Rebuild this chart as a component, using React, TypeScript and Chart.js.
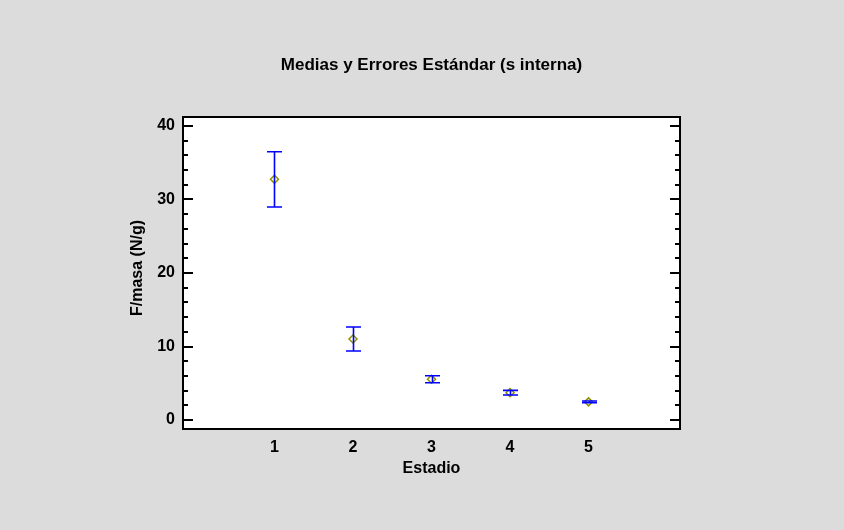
import React, { useEffect, useRef } from "react";
import { Chart, registerables } from "chart.js";

Chart.register(...registerables);

const chartTitle = "Medias y Errores Estándar (s interna)";
const xTitle = "Estadio";
const yTitle = "F/masa (N/g)";
const categories = [1, 2, 3, 4, 5];
const means = [32.74, 11.02, 5.55, 3.72, 2.47];
const stdErrs = [3.76, 1.63, 0.48, 0.32, 0.12];
const yMajorTicks = [0, 10, 20, 30, 40];
const yMinorStep = 2;
const xRange = [-0.165, 6.165];
const yRange = [-1.22, 41.22];

const FONT = "'Liberation Sans', Arial, sans-serif";

export default function App() {
  const ref = useRef<HTMLCanvasElement | null>(null);

  useEffect(() => {
    if (!ref.current) return;

    const framePlugin = {
      id: "frame",
      beforeDraw(chart: any) {
        const { ctx, chartArea: a } = chart;
        ctx.save();
        ctx.fillStyle = "#dcdcdc";
        ctx.fillRect(0, 0, chart.width, chart.height);
        ctx.fillStyle = "#ffffff";
        ctx.fillRect(a.left, a.top, a.right - a.left, a.bottom - a.top);
        ctx.restore();
      },
      afterDraw(chart: any) {
        const { ctx, chartArea: a } = chart;
        const y = chart.scales.y;
        ctx.save();
        ctx.strokeStyle = "#000000";
        ctx.lineWidth = 2;
        ctx.strokeRect(a.left, a.top, a.right - a.left, a.bottom - a.top);
        const drawTick = (v: number, len: number) => {
          const py = Math.round(y.getPixelForValue(v));
          ctx.beginPath();
          ctx.moveTo(a.left, py);
          ctx.lineTo(a.left + len, py);
          ctx.moveTo(a.right, py);
          ctx.lineTo(a.right - len, py);
          ctx.stroke();
        };
        const lo = yMajorTicks[0];
        const hi = yMajorTicks[yMajorTicks.length - 1];
        for (let v = lo; v <= hi + 1e-9; v += yMinorStep) {
          const isMajor = yMajorTicks.some((m) => Math.abs(m - v) < 1e-9);
          drawTick(v, isMajor ? 10 : 5);
        }
        // chart title, centred over the plot area
        ctx.fillStyle = "#000000";
        ctx.textAlign = "center";
        ctx.textBaseline = "middle";
        ctx.font = "bold 17px " + FONT;
        ctx.fillText(chartTitle, (a.left + a.right) / 2, 65);
        // y axis title
        ctx.translate(138, (a.top + a.bottom) / 2 - 5);
        ctx.rotate(-Math.PI / 2);
        ctx.font = "bold 16px " + FONT;
        ctx.fillText(yTitle, 0, 0);
        ctx.restore();
      },
    };

    const errorBarPlugin = {
      id: "errorBars",
      afterDatasetsDraw(chart: any) {
        const { ctx } = chart;
        const xs = chart.scales.x;
        const ys = chart.scales.y;
        ctx.save();
        ctx.strokeStyle = "#0000ff";
        ctx.lineWidth = 1.6;
        categories.forEach((c, i) => {
          const px = Math.round(xs.getPixelForValue(c)) + 0.5;
          const top = ys.getPixelForValue(means[i] + stdErrs[i]);
          const bot = ys.getPixelForValue(means[i] - stdErrs[i]);
          ctx.beginPath();
          ctx.moveTo(px, top);
          ctx.lineTo(px, bot);
          ctx.moveTo(px - 7.5, top);
          ctx.lineTo(px + 7.5, top);
          ctx.moveTo(px - 7.5, bot);
          ctx.lineTo(px + 7.5, bot);
          ctx.stroke();
        });
        ctx.restore();
      },
    };

    const chart = new Chart(ref.current, {
      type: "scatter",
      data: {
        datasets: [
          {
            data: categories.map((c, i) => ({ x: c, y: means[i] })),
            pointStyle: "rectRot",
            radius: 4,
            borderColor: "#909000",
            backgroundColor: "rgba(0,0,0,0)",
            borderWidth: 1.5,
            showLine: false,
          },
        ],
      },
      options: {
        animation: false,
        responsive: false,
        devicePixelRatio: 1,
        layout: { padding: { left: 0, right: 164, top: 117, bottom: 0 } },
        plugins: {
          legend: { display: false },
          tooltip: { enabled: false },
          title: { display: false },
        },
        scales: {
          x: {
            type: "linear",
            min: xRange[0],
            max: xRange[1],
            grid: { display: false, drawTicks: false },
            border: { display: false },
            afterBuildTicks: (s: any) => {
              s.ticks = categories.map((v) => ({ value: v }));
            },
            afterFit: (s: any) => {
              s.height = 101;
            },
            ticks: {
              autoSkip: false,
              maxRotation: 0,
              padding: 9,
              color: "#000000",
              font: { family: FONT, size: 16, weight: "bold" },
            },
            title: {
              display: true,
              text: xTitle,
              color: "#000000",
              font: { family: FONT, size: 16, weight: "bold" },
              padding: { top: 0, bottom: 51.4 },
            },
          },
          y: {
            type: "linear",
            min: yRange[0],
            max: yRange[1],
            grid: { display: false, drawTicks: false },
            border: { display: false },
            afterBuildTicks: (s: any) => {
              s.ticks = yMajorTicks.map((v) => ({ value: v }));
            },
            afterFit: (s: any) => {
              s.width = 183;
            },
            ticks: {
              padding: 8,
              color: "#000000",
              font: { family: FONT, size: 16, weight: "bold" },
            },
            title: { display: false },
          },
        },
      },
      plugins: [framePlugin, errorBarPlugin],
    } as any);

    return () => chart.destroy();
  }, []);

  return (
    <div style={{ position: "absolute", left: 0, top: 0, width: 844, height: 530, background: "#dcdcdc" }}>
      <canvas ref={ref} width={844} height={530} style={{ display: "block" }} />
    </div>
  );
}
